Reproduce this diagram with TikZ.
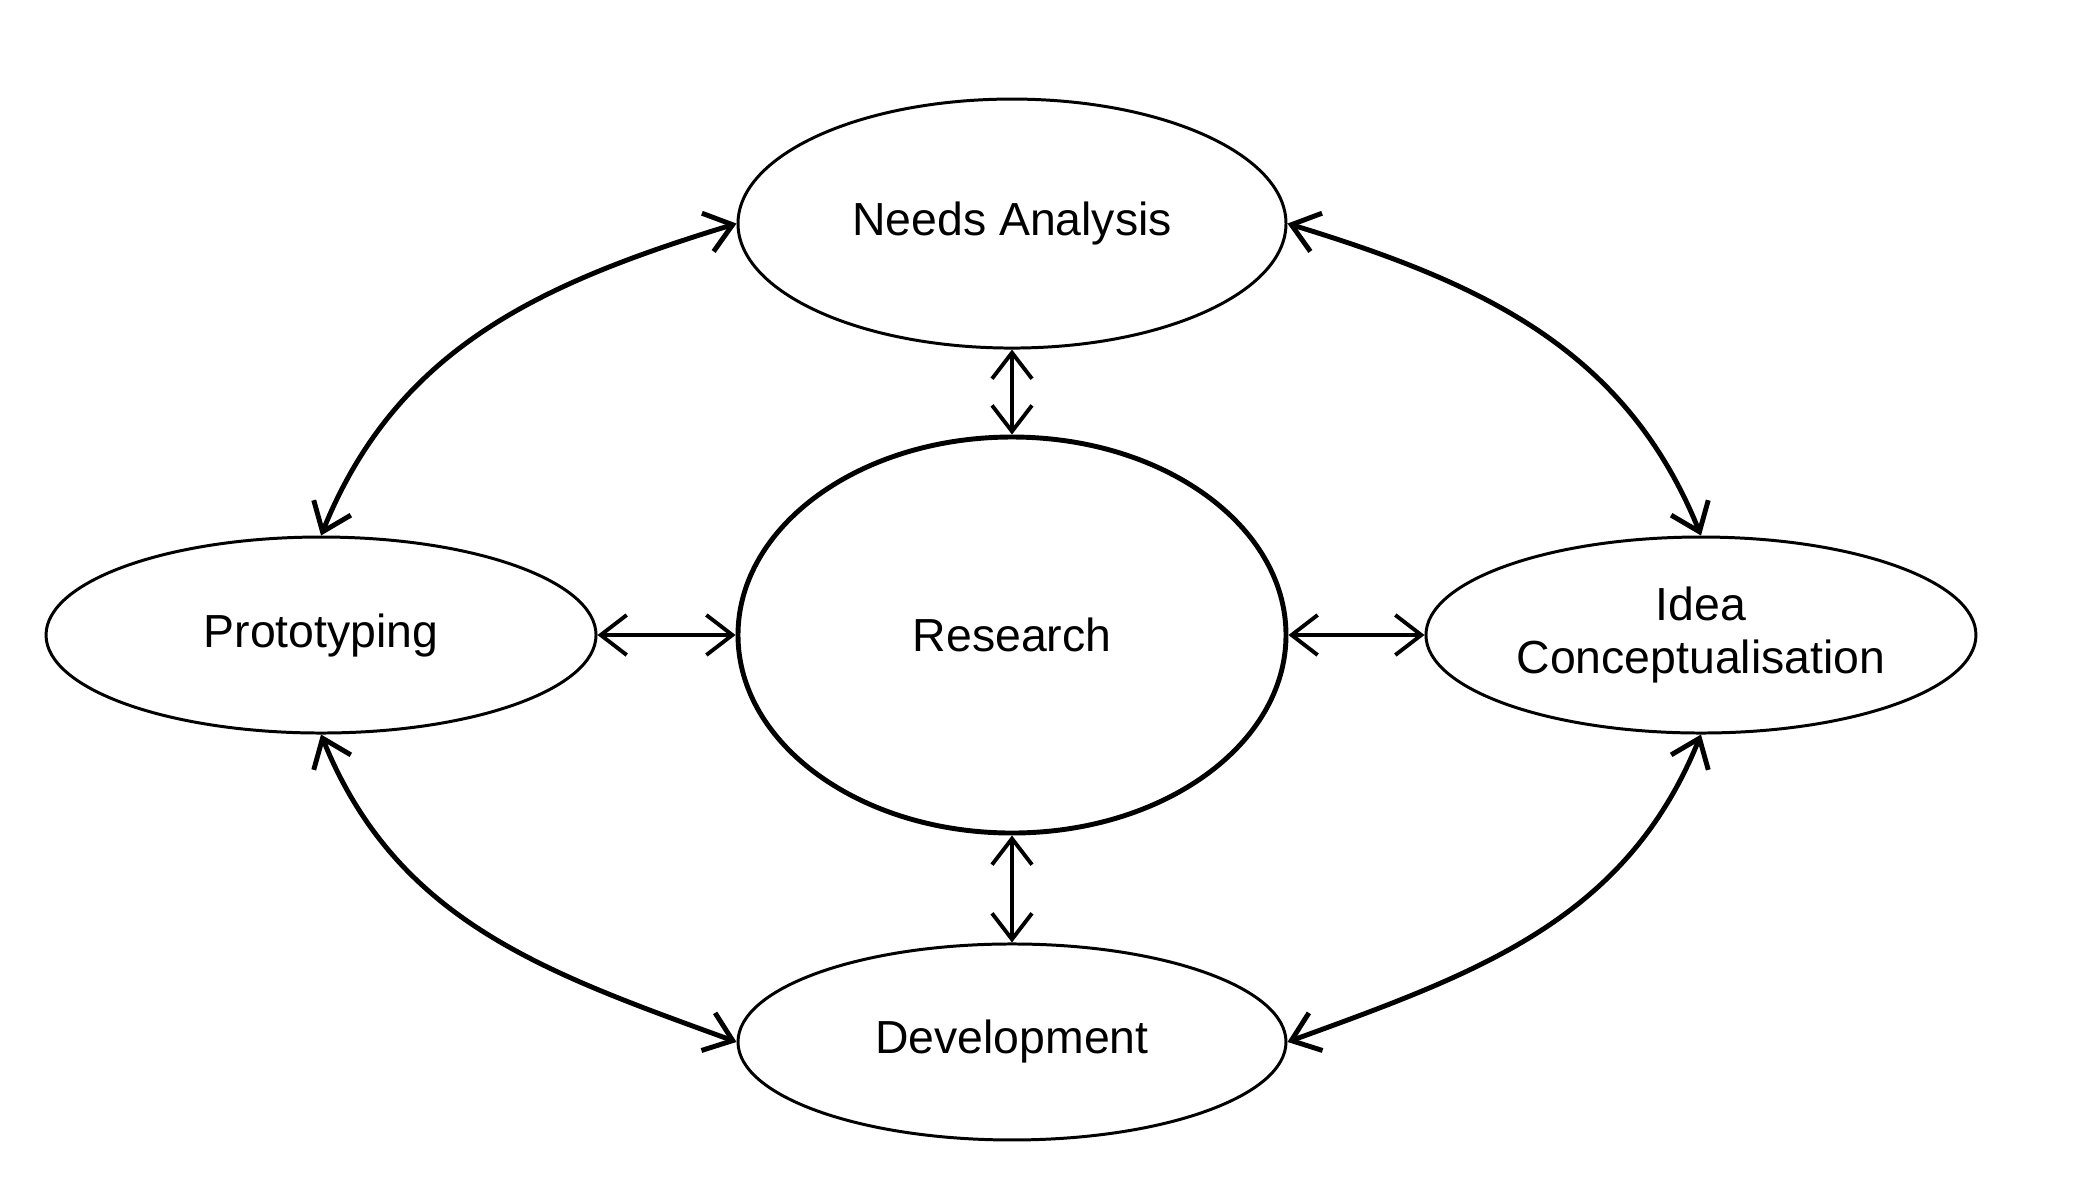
\documentclass[tikz,border=0pt]{standalone}
\usepackage{fontspec}
\setmainfont{Liberation Sans}
\usetikzlibrary{arrows.meta,positioning,shapes.geometric}
\tikzset{
  stage/.style={ellipse,draw,line width=0.85pt,inner sep=0pt,align=center,
    font=\fontsize{13.2}{15}\selectfont,minimum width=5.5cm,minimum height=1.96cm},
  bilink/.style={{Straight Barb[length=2.6mm,width=4mm]}-{Straight Barb[length=2.6mm,width=4mm]},
    line width=1.1pt},
  sweep/.style={bilink,line width=1.4pt},
}

\begin{document}
\begin{tikzpicture}[node distance=0.92cm and 1.38cm]
  \useasboundingbox (-10.12,-5.53) rectangle (10.62,6.35);
  \node[stage,line width=1.4pt,minimum width=5.48cm,minimum height=3.96cm] (res) {Research};
  \node[stage,minimum width=5.48cm,minimum height=2.49cm,above=0.85cm of res] (needs) {Needs Analysis};
  \node[stage,minimum width=5.48cm,below=1.07cm of res] (dev) {Development};
  \node[stage,left=1.38cm of res] (proto) {Prototyping};
  \node[stage,right=1.36cm of res] (idea) {Idea\\Conceptualisation};

  \draw[bilink] (needs) -- (res);
  \draw[bilink] (res) -- (dev);
  \draw[bilink] (proto) -- (res);
  \draw[bilink] (res) -- (idea);

  \draw[sweep] (proto.north) to[out=68,in=-163] (needs.west);
  \draw[sweep] (needs.east) to[out=-17,in=112] (idea.north);
  \draw[sweep] (idea.south) to[out=-112,in=20] (dev.east);
  \draw[sweep] (dev.west) to[out=160,in=-68] (proto.south);
\end{tikzpicture}
\end{document}
